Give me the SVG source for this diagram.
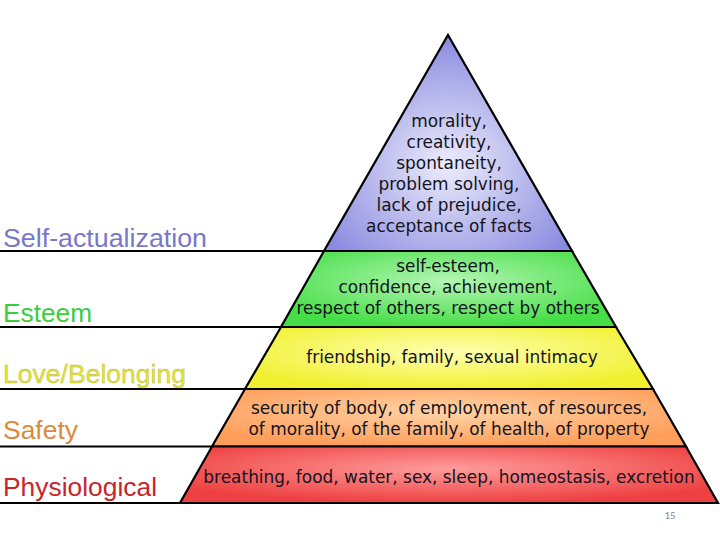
<svg xmlns="http://www.w3.org/2000/svg" width="720" height="540" viewBox="0 0 720 540">
<defs>
<radialGradient id="gBlue" cx="0.5" cy="0.6" r="0.6"><stop offset="0" stop-color="#ececfc"/><stop offset="1" stop-color="#8a8ae0"/></radialGradient>
<radialGradient id="gGreen" cx="0.5" cy="0.4" r="0.6"><stop offset="0" stop-color="#b4f6b4"/><stop offset="1" stop-color="#46de46"/></radialGradient>
<radialGradient id="gYellow" cx="0.5" cy="0.4" r="0.6"><stop offset="0" stop-color="#ffffb0"/><stop offset="1" stop-color="#f0f030"/></radialGradient>
<radialGradient id="gOrange" cx="0.5" cy="0.4" r="0.6"><stop offset="0" stop-color="#ffd4a8"/><stop offset="1" stop-color="#ff9e5a"/></radialGradient>
<radialGradient id="gRed" cx="0.5" cy="0.4" r="0.6"><stop offset="0" stop-color="#ff9c9c"/><stop offset="1" stop-color="#ee4040"/></radialGradient>
<style>
.tier{stroke:#000;stroke-width:2.2;stroke-linejoin:miter}
.t{font-family:"DejaVu Sans",Verdana,sans-serif;font-size:16.95px;fill:#141420;text-anchor:middle}
.lbl{font-family:"Liberation Sans",Arial,sans-serif;font-size:26.5px}
.rule{stroke:#000;stroke-width:2.2}
</style>
</defs>
<rect width="720" height="540" fill="#fff"/>
<g id="connectors">
<line class="rule" x1="0" y1="251" x2="324" y2="251"/>
<line class="rule" x1="0" y1="327" x2="281" y2="327"/>
<line class="rule" x1="0" y1="389" x2="245" y2="389"/>
<line class="rule" x1="0" y1="446.5" x2="212" y2="446.5"/>
<line class="rule" x1="0" y1="503" x2="180" y2="503"/>
</g>
<g id="self-actualization">
<polygon class="tier" fill="url(#gBlue)" points="448,35 572,251 324,251"/>
<text class="t"><tspan x="449" y="127">morality,</tspan><tspan x="449" y="148">creativity,</tspan><tspan x="449" y="169">spontaneity,</tspan><tspan x="449" y="190">problem solving,</tspan><tspan x="449" y="211">lack of prejudice,</tspan><tspan x="449" y="232">acceptance of facts</tspan></text>
<text class="lbl" x="3" y="247" fill="#7878c8" textLength="204" lengthAdjust="spacingAndGlyphs">Self-actualization</text>
</g>
<g id="esteem">
<polygon class="tier" fill="url(#gGreen)" points="324,251 572,251 616,327 281,327"/>
<text class="t"><tspan x="448" y="272">self-esteem,</tspan><tspan x="448" y="293">confidence, achievement,</tspan><tspan x="448" y="314">respect of others, respect by others</tspan></text>
<text class="lbl" x="3" y="321.5" fill="#3ccc3c" textLength="89" lengthAdjust="spacingAndGlyphs">Esteem</text>
</g>
<g id="love">
<polygon class="tier" fill="url(#gYellow)" points="281,327 616,327 653,389 245,389"/>
<text class="t" x="452" y="363">friendship, family, sexual intimacy</text>
<text class="lbl" x="3" y="383" fill="#e4e434" stroke="#b8b850" stroke-width="0.4" textLength="183" lengthAdjust="spacingAndGlyphs">Love/Belonging</text>
</g>
<g id="safety">
<polygon class="tier" fill="url(#gOrange)" points="245,389 653,389 686,446.5 212,446.5"/>
<text class="t"><tspan x="449" y="414">security of body, of employment, of resources,</tspan><tspan x="449" y="435">of morality, of the family, of health, of property</tspan></text>
<text class="lbl" x="3" y="439" fill="#dc8a3c" textLength="75" lengthAdjust="spacingAndGlyphs">Safety</text>
</g>
<g id="physiological">
<polygon class="tier" fill="url(#gRed)" points="212,446.5 686,446.5 718,503 180,503"/>
<text class="t" x="449" y="483">breathing, food, water, sex, sleep, homeostasis, excretion</text>
<text class="lbl" x="3" y="496" fill="#c8242c" textLength="154" lengthAdjust="spacingAndGlyphs">Physiological</text>
</g>
<text x="670" y="519" font-family="Carlito,'Liberation Sans',sans-serif" font-size="11" fill="#8a8a8a" text-anchor="middle">15</text>
</svg>
